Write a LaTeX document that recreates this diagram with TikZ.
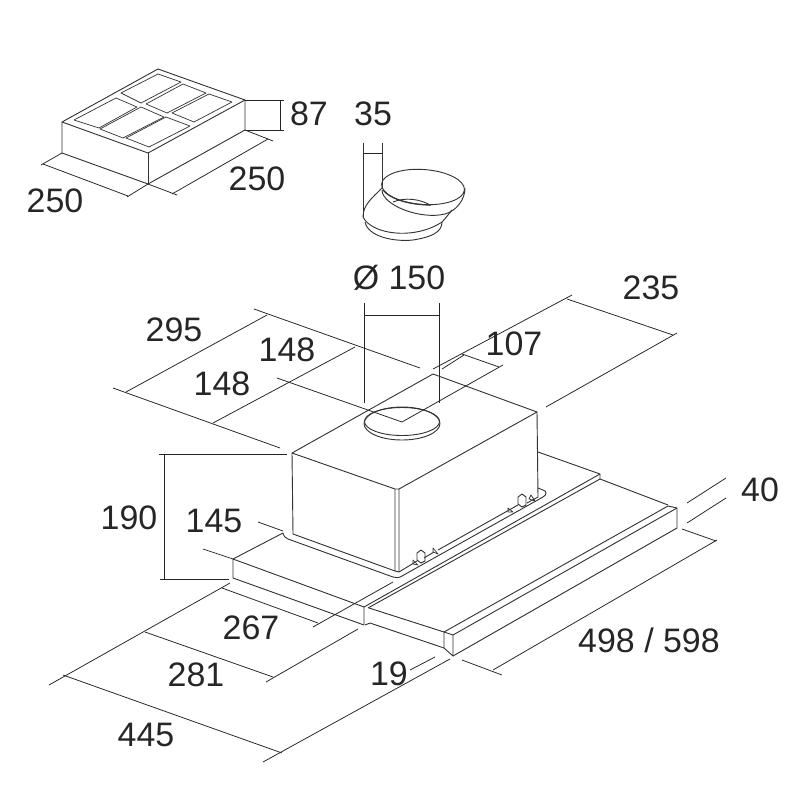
\documentclass[tikz,border=0pt]{standalone}
\usepackage{fontspec}
\setmainfont{Liberation Sans}
\tikzset{
	part/.style={line width=.26pt,black!80},
	dimline/.style={line width=.22pt,black!85},
	dimtext/.style={inner sep=0pt,xshift=.01cm,yshift=-.01cm,text=black!85,font=\fontsize{9.65}{11}\selectfont}
}
\begin{document}
\begin{tikzpicture}[x=.01cm,y=-.01cm,line join=round]
	\useasboundingbox[fill=white] (0,0) rectangle (800,800);

	% filter
	\draw[part] (158,69) -- (245,100) -- (148,153) -- (62,122) -- cycle;
	\draw[part] (62,122) -- (62,153) -- (148,184) -- (245,130) -- (245,100);
	\draw[part] (148,153) -- (148,184);
	\foreach \xa/\ya/\xb/\yb/\xc/\yc/\xd/\yd in {
		74/120/116/98/137/107/99/128,
		100/129/141/107/164/117/123/138,
		126/138/166/117/190/126/149/147,
		121/93/158/74/181/82/141/103,
		146/104/183/84/206/93/167/113,
		172/113/209/94/232/102/194/122}
	\draw[part,line width=.2pt] (\xa,\ya) -- (\xb,\yb) -- (\xc,\yc) -- (\xd,\yd) -- cycle;

	% duct
	\draw[part] (363,143) -- (363,217);
	\draw[part] (382,143) -- (382,188);
	\draw[dimline] (363,153) -- (382,153);
	\draw[part] (423,187) ellipse [x radius=41.5,y radius=17.5,rotate=-4];
	\draw[part,line width=.35pt] (383,190) .. controls (390,199) and (410,205) .. (431,205);
	\draw[part] (382,190) .. controls (382,205) and (420,220) .. (445,214) .. controls (456,211) and (465,200) .. (465,188);
	\draw[part] (393,202) .. controls (405,197) and (420,199) .. (430,205);
	\draw[part] (382,188) .. controls (372,198) and (363,205) .. (363,217);
	\draw[part] (363,217) .. controls (372,235) and (415,240) .. (442,222) .. controls (445,219) and (448,215) .. (452,210);
	\draw[part] (365,222) .. controls (368,237) and (395,242) .. (413,240) .. controls (432,237) and (442,232) .. (442,222);

	% hood
	\draw[part] (292,453) -- (433,374) -- (537,412) -- (399,489);
	\draw[part] (292,453) -- (395,489) -- (399,489) -- (399,572);
	\draw[part] (292,453) -- (293,534) -- (395,571) -- (395,489);
	\draw[part] (395,571) -- (399,572) -- (417,561);
	\draw[part] (424,558) -- (434,552);
	\draw[part] (438,550) -- (518,505);
	\draw[part] (527,503) -- (538,497) -- (537,412);
	\draw[part] (402,421.5) ellipse [x radius=37.5,y radius=14];
	\draw[part] (402,423.5) ellipse [x radius=38,y radius=16.5];

	% tray
	\draw[part] (233,559) -- (283,533) .. controls (284,537) and (285,537) .. (288,539) -- (393,577)
		.. controls (396,578) and (399,578) .. (402,576) -- (543,497)
		.. controls (547,495) and (547,491) .. (543,490) -- (538,488);
	\draw[part] (233,559) -- (364,607) -- (364,625) -- (233,578) -- cycle;
	\draw[part] (364,607) -- (600,474) -- (538,452);
	\draw[part] (368,608) -- (600,479) -- (600,474);
	\draw[part] (600,479) -- (668,505);
	\draw[part] (369,608) -- (444,632);
	\draw[part] (365,625) -- (370,623) -- (444,648);
	\draw[part] (444,632) -- (453,635) -- (453,656) -- (444,648) -- cycle;
	\draw[part] (444,632) -- (668,506) -- (677,508) -- (677,528) -- (453,656);
	\draw[part] (453,635) -- (677,508);

	% clips
	\foreach \cx/\cy in {421/550,522/494}
	\draw[part] (\cx-4,\cy+10) -- (\cx-4,\cy+3) -- (\cx,\cy) -- (\cx+4,\cy+3) -- (\cx+4,\cy+11) -- (\cx,\cy+13) -- cycle;
	\foreach \xa/\ya/\xb/\yb/\xc/\yc in {
		413/560/418/565/413/564, 433/548/438/554/433/552,
		508/508/513/512/508/512, 529/499/535/501/531/495}
	\draw[part,line width=.2pt] (\xa,\ya) -- (\xb,\yb) -- (\xc,\yc) -- cycle;

	% dimensions
	\foreach \xa/\ya/\xb/\yb in {
		245/100/284/100, 245/130/284/130, 280/100/280/130,
		62/153/41/165, 43/164/128/196, 148/184/127/197,
		148/184/177/195, 245/130/273/141, 172/194/268/139,
		364/303/364/403, 439/303/439/403, 364/315/439/315,
		254/309/420/368, 267/315/126/392, 113/388/280/448,
		355/347/213/423, 277/378/402/422, 402/422/503/365,
		433/369/572/295, 442/369/464/355, 462/354/499/367,
		567/299/673/335, 546/407/677/333,
		159/454/287/454, 164/454/164/579, 160/579/229/579,
		258/522/283/531, 203/549/233/559,
		230/583/49/685, 222/588/318/623, 313/627/393/582,
		145/632/273/677, 266/682/358/629,
		63/675/282/753, 263/762/450/659, 410/670/435/657,
		462/660/502/675, 493/670/717/540, 682/529/716/541,
		687/503/726/478, 687/523/726/498}
	\draw[dimline] (\xa,\ya) -- (\xb,\yb);

	% labels
	\node[dimtext] (l87) at (308,113) {87};
	\node[dimtext] (l35) at (372,113) {35};
	\node[dimtext] (lfa) at (54,200) {250};
	\node[dimtext] (lfb) at (256,178) {250};
	\node[dimtext] (ldia) at (398,277) {Ø 150};
	\node[dimtext] (l235) at (650,287) {235};
	\node[dimtext] (l295) at (173,329) {295};
	\node[dimtext] (lha) at (286,349) {148};
	\node[dimtext] (lhb) at (221,383) {148};
	\node[dimtext] (l107) at (513,343) {107};
	\node[dimtext] (l40) at (759,489) {40};
	\node[dimtext] (l190) at (128,517) {190};
	\node[dimtext] (l145) at (213,520) {145};
	\node[dimtext] (l267) at (250,627) {267};
	\node[dimtext] (l281) at (195,674) {281};
	\node[dimtext] (l19) at (388,673) {19};
	\node[dimtext] (lwid) at (648,639) {498 / 598};
	\node[dimtext] (l445) at (145,734) {445};
\end{tikzpicture}
\end{document}
